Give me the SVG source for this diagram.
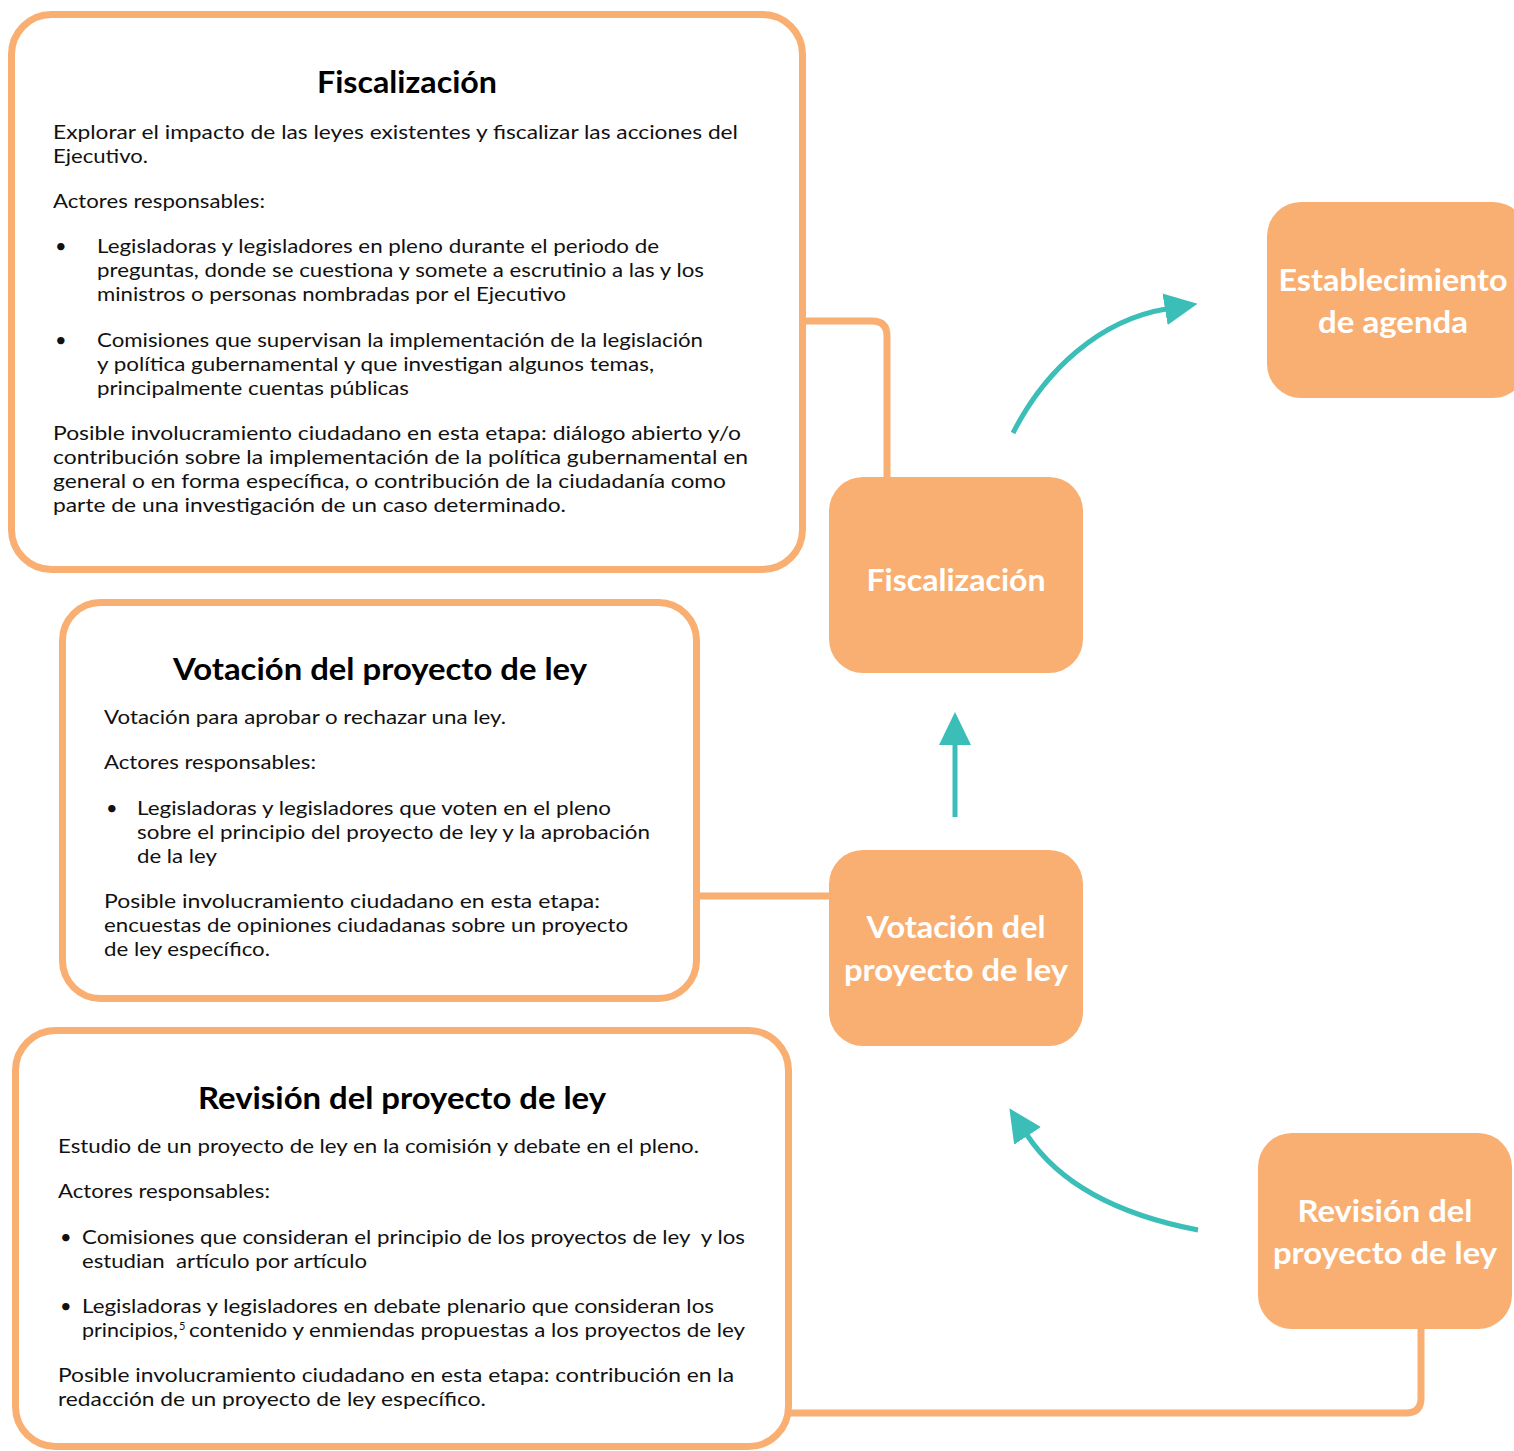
<svg xmlns="http://www.w3.org/2000/svg" width="1514" height="1451" viewBox="0 0 1514 1451">
<style>
.box{fill:#fff;stroke:#F9AE72;stroke-width:7}
.node{fill:#F9AF72}
.link{fill:none;stroke:#F9AE72;stroke-width:7}
.arrow{fill:none;stroke:#3BBEB8;stroke-width:5}
.t{font-family:Lato,"Liberation Sans",sans-serif;font-size:20px;fill:#111}
.h{font-family:Lato,"Liberation Sans",sans-serif;font-size:30px;font-weight:bold;fill:#000;text-anchor:middle}
.n{font-family:Lato,"Liberation Sans",sans-serif;font-size:30px;font-weight:bold;fill:#fff;text-anchor:middle}
</style>
<defs>
<marker id="ah" markerUnits="userSpaceOnUse" markerWidth="40" markerHeight="40" refX="1" refY="16" orient="auto">
<path d="M0,0 L33,16 L0,32 z" fill="#3BBEB8"/>
</marker>
</defs>

<g id="connectors">
<path class="link" d="M806,321 H872 Q887,321 887,336 V478"/>
<path class="link" d="M700,896 H830"/>
<path class="link" d="M1421,1329 V1398 Q1421,1413 1406,1413 H790"/>
<path class="arrow" marker-end="url(#ah)" d="M1013,433 C1045,370 1100,320 1166,309"/>
<path class="arrow" marker-end="url(#ah)" d="M955,817 V744"/>
<path class="arrow" marker-end="url(#ah)" d="M1198,1230 C1120,1215 1060,1185 1027,1135"/>
</g>

<g id="detail-fiscalizacion">
<rect class="box" x="11.5" y="14.5" width="791" height="555" rx="40"/>
<text class="h" x="407" y="93" textLength="180" lengthAdjust="spacingAndGlyphs">Fiscalización</text>
<text class="t" x="53" y="139" textLength="685" lengthAdjust="spacingAndGlyphs">Explorar el impacto de las leyes existentes y fiscalizar las acciones del</text>
<text class="t" x="53" y="163" textLength="95" lengthAdjust="spacingAndGlyphs">Ejecutivo.</text>
<text class="t" x="53" y="208" textLength="212" lengthAdjust="spacingAndGlyphs">Actores responsables:</text>
<text class="t" x="55" y="253">•</text>
<text class="t" x="97" y="253" textLength="562" lengthAdjust="spacingAndGlyphs">Legisladoras y legisladores en pleno durante el periodo de</text>
<text class="t" x="97" y="277" textLength="607" lengthAdjust="spacingAndGlyphs">preguntas, donde se cuestiona y somete a escrutinio a las y los</text>
<text class="t" x="97" y="301" textLength="469" lengthAdjust="spacingAndGlyphs">ministros o personas nombradas por el Ejecutivo</text>
<text class="t" x="55" y="347">•</text>
<text class="t" x="97" y="347" textLength="606" lengthAdjust="spacingAndGlyphs">Comisiones que supervisan la implementación de la legislación</text>
<text class="t" x="97" y="371" textLength="557" lengthAdjust="spacingAndGlyphs">y política gubernamental y que investigan algunos temas,</text>
<text class="t" x="97" y="395" textLength="312" lengthAdjust="spacingAndGlyphs">principalmente cuentas públicas</text>
<text class="t" x="53" y="440" textLength="688" lengthAdjust="spacingAndGlyphs">Posible involucramiento ciudadano en esta etapa: diálogo abierto y/o</text>
<text class="t" x="53" y="464" textLength="695" lengthAdjust="spacingAndGlyphs">contribución sobre la implementación de la política gubernamental en</text>
<text class="t" x="53" y="488" textLength="673" lengthAdjust="spacingAndGlyphs">general o en forma específica, o contribución de la ciudadanía como</text>
<text class="t" x="53" y="512" textLength="513" lengthAdjust="spacingAndGlyphs">parte de una investigación de un caso determinado.</text>
</g>

<g id="detail-votacion">
<rect class="box" x="62.5" y="602.5" width="634" height="396" rx="38"/>
<text class="h" x="380" y="680" textLength="414" lengthAdjust="spacingAndGlyphs">Votación del proyecto de ley</text>
<text class="t" x="104" y="724" textLength="402" lengthAdjust="spacingAndGlyphs">Votación para aprobar o rechazar una ley.</text>
<text class="t" x="104" y="769" textLength="212" lengthAdjust="spacingAndGlyphs">Actores responsables:</text>
<text class="t" x="106" y="815">•</text>
<text class="t" x="137" y="815" textLength="474" lengthAdjust="spacingAndGlyphs">Legisladoras y legisladores que voten en el pleno</text>
<text class="t" x="137" y="839" textLength="513" lengthAdjust="spacingAndGlyphs">sobre el principio del proyecto de ley y la aprobación</text>
<text class="t" x="137" y="863" textLength="80" lengthAdjust="spacingAndGlyphs">de la ley</text>
<text class="t" x="104" y="908" textLength="496" lengthAdjust="spacingAndGlyphs">Posible involucramiento ciudadano en esta etapa:</text>
<text class="t" x="104" y="932" textLength="524" lengthAdjust="spacingAndGlyphs">encuestas de opiniones ciudadanas sobre un proyecto</text>
<text class="t" x="104" y="956" textLength="166" lengthAdjust="spacingAndGlyphs">de ley específico.</text>
</g>

<g id="detail-revision">
<rect class="box" x="15.5" y="1030.5" width="773" height="416" rx="40"/>
<text class="h" x="402" y="1109" textLength="408" lengthAdjust="spacingAndGlyphs">Revisión del proyecto de ley</text>
<text class="t" x="58" y="1153" textLength="641" lengthAdjust="spacingAndGlyphs">Estudio de un proyecto de ley en la comisión y debate en el pleno.</text>
<text class="t" x="58" y="1198" textLength="212" lengthAdjust="spacingAndGlyphs">Actores responsables:</text>
<text class="t" x="60" y="1244">•</text>
<text class="t" x="82" y="1244" textLength="663" lengthAdjust="spacingAndGlyphs" xml:space="preserve">Comisiones que consideran el principio de los proyectos de ley  y los</text>
<text class="t" x="82" y="1268" textLength="285" lengthAdjust="spacingAndGlyphs" xml:space="preserve">estudian  artículo por artículo</text>
<text class="t" x="60" y="1313">•</text>
<text class="t" x="82" y="1313" textLength="632" lengthAdjust="spacingAndGlyphs">Legisladoras y legisladores en debate plenario que consideran los</text>
<text class="t" y="1337"><tspan x="82" textLength="96" lengthAdjust="spacingAndGlyphs">principios,</tspan><tspan x="179" y="1330" font-size="11">5</tspan><tspan x="189" y="1337" textLength="556" lengthAdjust="spacingAndGlyphs">contenido y enmiendas propuestas a los proyectos de ley</tspan></text>
<text class="t" x="58" y="1382" textLength="676" lengthAdjust="spacingAndGlyphs">Posible involucramiento ciudadano en esta etapa: contribución en la</text>
<text class="t" x="58" y="1406" textLength="428" lengthAdjust="spacingAndGlyphs">redacción de un proyecto de ley específico.</text>
</g>

<g id="node-establecimiento">
<rect class="node" x="1267" y="202" width="260" height="196" rx="34"/>
<text class="n" x="1393" y="291" textLength="229" lengthAdjust="spacingAndGlyphs">Establecimiento</text>
<text class="n" x="1393" y="333" textLength="150" lengthAdjust="spacingAndGlyphs">de agenda</text>
</g>

<g id="node-fiscalizacion">
<rect class="node" x="829" y="477" width="254" height="196" rx="34"/>
<text class="n" x="956" y="591" textLength="179" lengthAdjust="spacingAndGlyphs">Fiscalización</text>
</g>

<g id="node-votacion">
<rect class="node" x="829" y="850" width="254" height="196" rx="34"/>
<text class="n" x="956" y="938" textLength="179" lengthAdjust="spacingAndGlyphs">Votación del</text>
<text class="n" x="956" y="981" textLength="224" lengthAdjust="spacingAndGlyphs">proyecto de ley</text>
</g>

<g id="node-revision">
<rect class="node" x="1258" y="1133" width="254" height="196" rx="34"/>
<text class="n" x="1385" y="1222" textLength="175" lengthAdjust="spacingAndGlyphs">Revisión del</text>
<text class="n" x="1385" y="1264" textLength="224" lengthAdjust="spacingAndGlyphs">proyecto de ley</text>
</g>
</svg>
